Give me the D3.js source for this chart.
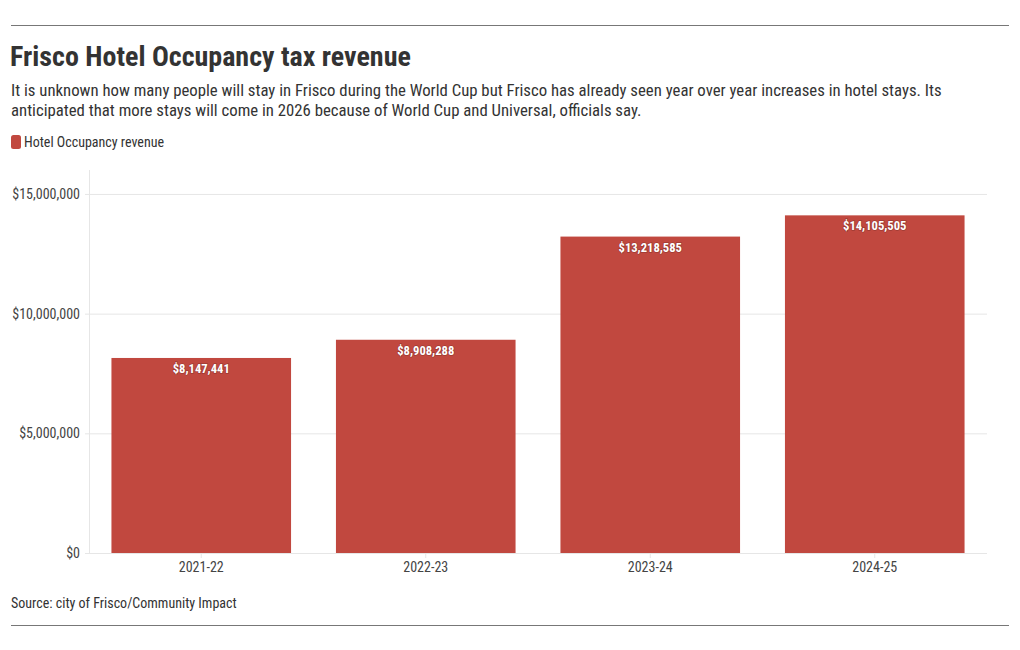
<!DOCTYPE html>
<html>
<head>
<meta charset="utf-8">
<script src="https://cdn.jsdelivr.net/npm/d3@7"></script>
<style>
  body { margin: 0; background: #fff; }
  svg text { font-family: "Roboto Condensed", "Liberation Sans Narrow", "DejaVu Sans Condensed", Roboto, sans-serif; }
</style>
</head>
<body>
<div id="chart"></div>
<script>
var svgWidth = 1020;
var svgHeight = 650;

var categories = ["2021-22", "2022-23", "2023-24", "2024-25"];
var revenue = [8147441, 8908288, 13218585, 14105505];
var yTicks = [0, 5000000, 10000000, 15000000];
var seriesName = "Hotel Occupancy revenue";

var barColor = "#c1483f";

var margin = { top: 170, right: 33, bottom: 97, left: 89 };
var width = svgWidth - margin.left - margin.right;
var height = svgHeight - margin.top - margin.bottom;

var svg = d3.select("#chart")
  .append("svg")
  .attr("width", svgWidth)
  .attr("height", svgHeight);

// header / footer rules
svg.append("line")
  .attr("x1", 11).attr("x2", 1009).attr("y1", 25.5).attr("y2", 25.5)
  .attr("stroke", "#777").attr("stroke-width", 1);
svg.append("line")
  .attr("x1", 11).attr("x2", 1009).attr("y1", 625.5).attr("y2", 625.5)
  .attr("stroke", "#777").attr("stroke-width", 1);

svg.append("text")
  .attr("x", 10).attr("y", 66)
  .attr("font-size", "28px")
  .attr("font-weight", "bold")
  .attr("fill", "#333")
  .text("Frisco Hotel Occupancy tax revenue");

var subtitle = [
  "It is unknown how many people will stay in Frisco during the World Cup but Frisco has already seen year over year increases in hotel stays. Its",
  "anticipated that more stays will come in 2026 because of World Cup and Universal, officials say."
];
svg.append("g").selectAll("text")
  .data(subtitle)
  .enter()
  .append("text")
  .attr("x", 11)
  .attr("y", (d, i) => 96 + i * 20)
  .attr("font-size", "16.75px")
  .attr("fill", "#333")
  .text(d => d);

// legend
var legend = svg.append("g").attr("transform", "translate(11, 135)");
legend.append("rect")
  .attr("width", 10).attr("height", 14)
  .attr("rx", 2.5)
  .attr("fill", barColor);
legend.append("text")
  .attr("x", 13).attr("y", 12)
  .attr("font-size", "14px")
  .attr("fill", "#333")
  .text(seriesName);

svg.append("text")
  .attr("x", 11).attr("y", 608)
  .attr("font-size", "14px")
  .attr("fill", "#333")
  .text("Source: city of Frisco/Community Impact");

var chartGroup = svg.append("g")
  .attr("transform", `translate(${margin.left}, ${margin.top})`);

var xScale = d3.scaleBand()
  .domain(categories)
  .range([0, width])
  .paddingInner(0.2)
  .paddingOuter(0.1);

var yScale = d3.scaleLinear()
  .domain([0, 16000000])
  .range([height, 0]);

// gridlines
var leftAxis = d3.axisLeft(yScale)
  .tickValues(yTicks)
  .tickSize(-width)
  .tickPadding(9)
  .tickFormat(d => "$" + d3.format(",")(d));

var yAxisG = chartGroup.append("g").call(leftAxis);
yAxisG.select(".domain").remove();
yAxisG.selectAll(".tick line")
  .attr("stroke", "#e6e6e6")
  .attr("x1", -4);
yAxisG.selectAll(".tick text")
  .attr("font-size", "14px")
  .attr("fill", "#444");

// vertical axis line
chartGroup.append("line")
  .attr("x1", 0.5).attr("x2", 0.5)
  .attr("y1", 0).attr("y2", height)
  .attr("stroke", "#e6e6e6");

var bottomAxis = d3.axisBottom(xScale)
  .tickSize(5)
  .tickPadding(4);
var xAxisG = chartGroup.append("g")
  .attr("transform", `translate(0, ${height})`)
  .call(bottomAxis);
xAxisG.select(".domain").remove();
xAxisG.selectAll(".tick line").attr("stroke", "#e6e6e6");
xAxisG.selectAll(".tick text")
  .attr("font-size", "14px")
  .attr("fill", "#444");

// bars
chartGroup.selectAll("rect.bar")
  .data(revenue)
  .enter()
  .append("rect")
  .attr("class", "bar")
  .attr("x", (d, i) => xScale(categories[i]))
  .attr("y", d => yScale(d))
  .attr("width", xScale.bandwidth())
  .attr("height", d => height - yScale(d))
  .attr("fill", barColor);

// value labels
chartGroup.append("g")
  .selectAll("text")
  .data(revenue)
  .enter()
  .append("text")
  .attr("x", (d, i) => xScale(categories[i]) + xScale.bandwidth() / 2)
  .attr("y", d => yScale(d) + 15)
  .attr("text-anchor", "middle")
  .attr("font-size", "12.6px")
  .attr("font-weight", "bold")
  .attr("fill", "#fff")
  .style("paint-order", "stroke")
  .attr("stroke", "rgba(90,30,25,0.35)")
  .attr("stroke-width", 1.5)
  .text(d => "$" + d3.format(",")(d));
</script>
</body>
</html>
